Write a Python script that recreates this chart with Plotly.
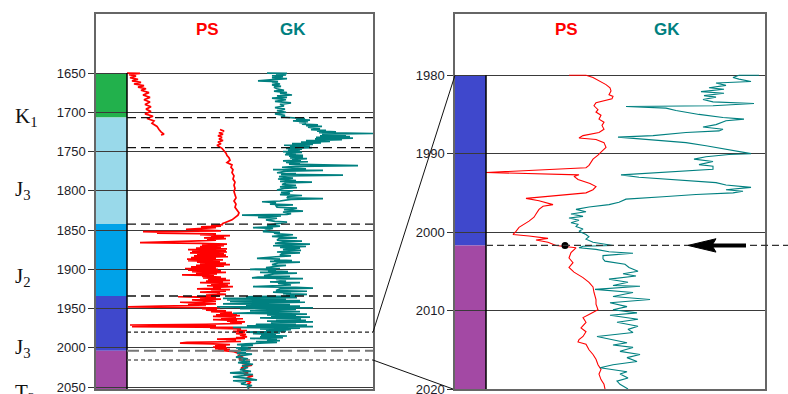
import plotly.graph_objects as go

W, H = 788, 394

# ---------------- data ----------------
LEFT_TICKS = [1650, 1700, 1750, 1800, 1850, 1900, 1950, 2000, 2050]
RIGHT_TICKS = [1980, 1990, 2000, 2010, 2020]

# stratigraphic column (depth tops / bases, m)
LEFT_UNIT_TOPS = [1650.0, 1706.7, 1842.4, 1934.0, 2003.7]
LEFT_UNIT_BASES = [1706.7, 1842.4, 1934.0, 2003.7, 2052.5]
RIGHT_UNIT_TOPS = [1980.0, 2001.7]
RIGHT_UNIT_BASES = [2001.7, 2020.0]
LEFT_LONG_DASH = [1706.7, 1745.0, 1842.4, 1934.0]
LEFT_GREY_DASH = [2003.7]
LEFT_SHORT_DASH = [1980.0, 2015.6]
RIGHT_BOUNDARY = 2001.7
RIGHT_DOT = (110, 2001.7)

STRAT_LABELS = ["K<sub>1</sub>", "J<sub>3</sub>", "J<sub>2</sub>", "J<sub>3</sub>", "T<sub>2</sub>"]
STRAT_DEPTHS = [1706, 1799, 1910, 2000, 2058]

# PS (red) log, left panel: (depth m, relative value)
PS_LEFT_UPPER = [(1650, 31), (1650.5, 44), (1652, 33), (1654, 40), (1656, 34), (1658, 42), (1660, 36),
                 (1662, 45), (1664, 38), (1666, 48), (1668, 42), (1670, 50), (1672, 45), (1675, 53),
                 (1678, 47), (1681, 54), (1684, 48), (1687, 54), (1690, 49), (1693, 55), (1696, 50),
                 (1699, 55), (1702, 49), (1705, 57), (1708, 51), (1711, 58), (1714, 56), (1718, 61),
                 (1722, 63), (1725, 65), (1728, 68), (1729, 65)]
PS_LEFT_LOWER = [(1722, 124), (1724, 128), (1726, 123), (1728, 127), (1730, 122), (1732, 126), (1734, 123),
                 (1736, 127), (1738, 122), (1740, 125), (1742, 121), (1744, 124), (1746, 126), (1749, 128),
                 (1752, 130), (1755, 131), (1758, 133), (1761, 134), (1764, 131), (1767, 136), (1770, 135),
                 (1773, 137), (1777, 136), (1781, 138), (1785, 137), (1789, 139), (1793, 138), (1797, 139),
                 (1801, 138), (1805, 139), (1809, 140), (1813, 138), (1817, 140), (1821, 139), (1825, 141),
                 (1828, 143), (1831, 142), (1834, 139), (1837, 136), (1840, 130), (1842, 126),
                 (1843, 127), (1844, 115), (1845, 125), (1846, 105), (1847, 120), (1848, 100), (1849, 90),
                 (1850, 110), (1851, 125), (1852, 47), (1853, 70), (1854, 61), (1855, 120), (1856, 104),
                 (1857, 134), (1858, 115), (1859, 128), (1860, 108), (1861, 130), (1862, 111), (1863, 120),
                 (1864, 95), (1865, 49), (1866, 44), (1867, 104), (1868, 131), (1869, 106), (1870, 128),
                 (1871, 104), (1872, 125), (1873, 100), (1874, 131), (1875, 92), (1876, 130), (1877, 96),
                 (1878, 131), (1879, 94), (1880, 128), (1881, 101), (1882, 130), (1883, 98), (1884, 132),
                 (1885, 95), (1886, 120), (1887, 91), (1888, 127), (1889, 92), (1890, 124), (1891, 101),
                 (1892, 130), (1893, 104), (1894, 134), (1895, 100), (1896, 128), (1897, 95), (1898, 120),
                 (1899, 89), (1900, 122), (1901, 92), (1902, 125), (1903, 96), (1904, 130), (1905, 100),
                 (1906, 121), (1907, 86), (1908, 118), (1909, 106), (1910, 125), (1911, 107), (1912, 130),
                 (1913, 112), (1914, 134), (1915, 110), (1916, 127), (1917, 104), (1918, 134), (1919, 115),
                 (1920, 132), (1921, 111), (1922, 137), (1923, 117), (1924, 125), (1925, 101), (1926, 134),
                 (1927, 115), (1928, 130), (1929, 104), (1930, 124), (1931, 121), (1932, 130), (1933, 110),
                 (1934, 124), (1935, 82), (1936, 120), (1937, 104), (1938, 125), (1939, 96), (1940, 110),
                 (1941, 120), (1942, 84), (1943, 100), (1944, 120), (1945, 92), (1946, 110), (1947, 64),
                 (1948, 32), (1949, 124), (1950, 106), (1951, 121), (1952, 110), (1953, 130), (1954, 115),
                 (1955, 136), (1956, 124), (1957, 141), (1958, 120), (1959, 144), (1960, 117), (1961, 140),
                 (1962, 125), (1963, 147), (1964, 117), (1965, 141), (1966, 131), (1967, 149), (1968, 134),
                 (1969, 146), (1970, 110), (1971, 34), (1972, 120), (1973, 36), (1974, 137), (1975, 114),
                 (1976, 145), (1977, 141), (1978, 151), (1979, 137), (1980, 149), (1982, 140), (1983, 150),
                 (1984, 144), (1986, 151), (1987, 140), (1988, 149), (1989, 121), (1990, 140), (1991, 130),
                 (1992, 145), (1993, 91), (1994, 84), (1995, 117), (1996, 134), (1997, 119), (1998, 130),
                 (1999, 117), (2000, 131), (2001, 119), (2002, 134), (2003, 122), (2004, 136), (2005, 138),
                 (2006, 140), (2008, 144), (2010, 142), (2012, 147), (2014, 143), (2016, 145), (2018, 150),
                 (2020, 146), (2022, 156), (2024, 148), (2026, 145), (2028, 149), (2030, 147), (2032, 152),
                 (2034, 148), (2036, 157), (2038, 151), (2040, 153), (2042, 149), (2044, 155), (2046, 152),
                 (2048, 154), (2050, 152), (2052, 153)]

# GK (teal) log, left panel
GK_LEFT = [(1650, 171), (1650.5, 191), (1651.5, 180), (1652.5, 190), (1653.5, 176), (1654.5, 187), (1656, 176),
           (1657, 191), (1658, 180), (1660, 162), (1661, 182), (1662, 176), (1664, 184), (1665, 176),
           (1667, 185), (1668, 178), (1670, 181), (1672, 188), (1673, 178), (1675, 191), (1676, 184),
           (1678, 196), (1679, 181), (1681, 191), (1682, 176), (1684, 190), (1686, 179), (1688, 195),
           (1690, 184), (1692, 188), (1694, 179), (1696, 189), (1698, 181), (1700, 190), (1702, 179),
           (1704, 189), (1706, 185),
           (1707, 197), (1708, 209), (1709, 200), (1710, 214), (1711, 197), (1712, 212), (1713, 203),
           (1714, 210), (1715, 206), (1716, 222), (1717, 210), (1718, 226), (1719, 212), (1720, 218),
           (1721, 224), (1722, 215), (1723, 230), (1724, 221), (1725, 240), (1726, 223), (1727, 277),
           (1728, 226), (1729, 250), (1730, 224), (1731, 254), (1732, 220), (1733, 257), (1734, 219),
           (1735, 246), (1736, 210), (1737, 234), (1738, 205), (1739, 225), (1740, 196), (1741, 217),
           (1742, 188), (1743, 214), (1744, 194), (1745, 216), (1746, 190),
           (1747, 206), (1748, 192), (1749, 204), (1750, 187), (1751, 206), (1752, 190), (1753, 200),
           (1754, 189), (1755, 207), (1756, 193), (1757, 207), (1758, 194), (1759, 211), (1760, 196),
           (1761, 205), (1762, 187), (1763, 212), (1764, 190), (1765, 204), (1766, 193), (1768, 262),
           (1769, 200), (1770, 186), (1772, 210), (1773, 177), (1774, 227), (1775, 190), (1777, 181),
           (1778, 200), (1779, 185), (1780, 247), (1781, 192), (1782, 183), (1784, 197), (1785, 182),
           (1787, 200), (1788, 184), (1789, 216), (1790, 190), (1792, 186), (1793, 200), (1795, 184),
           (1796, 201), (1797, 188), (1799, 181), (1800, 197), (1802, 185), (1803, 194), (1805, 184),
           (1806, 206), (1807, 192), (1809, 191), (1810, 227), (1811, 195), (1813, 184), (1814, 166),
           (1815, 180), (1817, 174), (1818, 197), (1819, 180), (1821, 181), (1822, 201), (1824, 188),
           (1826, 207), (1827, 187), (1829, 195), (1830, 191), (1831, 146), (1832, 185), (1834, 162),
           (1835, 181), (1837, 170), (1839, 179), (1840, 191), (1842, 180), (1844, 171), (1845, 184),
           (1846, 175), (1847, 157), (1848, 177), (1850, 170), (1852, 167), (1853, 184), (1854, 178),
           (1855, 182), (1856, 197), (1857, 186), (1858, 176), (1860, 201), (1861, 183), (1863, 181),
           (1864, 206), (1865, 188), (1867, 179), (1868, 214), (1869, 185), (1870, 177), (1871, 210),
           (1872, 184), (1873, 204),
           (1875, 187), (1876, 205), (1877, 185), (1878, 181), (1879, 204), (1880, 186), (1882, 184),
           (1883, 195), (1884, 180), (1886, 161), (1887, 184), (1888, 178), (1889, 196), (1890, 174),
           (1891, 204), (1892, 182), (1894, 176), (1895, 190), (1896, 181), (1898, 170), (1899, 184),
           (1900, 154), (1901, 180), (1902, 172), (1903, 192), (1904, 164), (1905, 201), (1906, 178),
           (1908, 168), (1909, 194), (1910, 162), (1911, 156), (1912, 207), (1913, 180), (1915, 190),
           (1916, 174), (1917, 204), (1918, 182), (1920, 195), (1921, 176), (1922, 157), (1923, 200),
           (1924, 217), (1925, 184), (1927, 180), (1928, 211), (1929, 177), (1930, 195), (1931, 187),
           (1932, 211), (1933, 190), (1934, 200), (1935, 150), (1936, 201), (1937, 127), (1938, 190),
           (1939, 131), (1940, 204), (1941, 134), (1942, 209), (1943, 160), (1944, 127), (1945, 194),
           (1946, 150), (1947, 204), (1948, 121), (1949, 217), (1950, 144), (1951, 200), (1952, 165),
           (1953, 154), (1954, 204), (1955, 170), (1956, 137), (1957, 211), (1958, 171), (1959, 200),
           (1960, 175), (1961, 214), (1962, 164), (1963, 205), (1964, 180), (1965, 210), (1966, 171),
           (1967, 217), (1968, 175), (1969, 200), (1970, 160), (1971, 211), (1972, 151), (1973, 217),
           (1974, 137), (1975, 204), (1976, 164), (1977, 195), (1978, 170), (1979, 190), (1980, 151),
           (1981, 184), (1982, 157), (1983, 180), (1984, 165), (1985, 191), (1986, 164), (1987, 187),
           (1988, 154), (1989, 181), (1990, 171), (1991, 184), (1992, 160), (1993, 181), (1994, 157),
           (1995, 150), (1996, 141), (1997, 157), (1998, 145), (1999, 152), (2000, 140), (2001, 155),
           (2002, 142), (2003, 154), (2004, 137), (2006, 150), (2007, 141), (2008, 156), (2010, 145),
           (2012, 140), (2014, 152), (2016, 143), (2018, 154), (2019, 142), (2021, 157), (2023, 146),
           (2025, 152), (2028, 144), (2030, 155), (2032, 134), (2034, 157), (2036, 140), (2037, 137),
           (2039, 152), (2041, 161), (2042, 137), (2044, 150), (2046, 145), (2048, 156), (2050, 151),
           (2052, 153)]

# right panel (detail 1980-2020 m)
PS_RIGHT = [(1980.0, 114), (1980.0, 131), (1980.3, 138), (1980.7, 144), (1981.2, 151), (1981.6, 155),
            (1982.0, 156), (1982.5, 154), (1982.7, 158), (1983.0, 157), (1983.3, 148), (1983.5, 141),
            (1983.9, 139), (1984.4, 143), (1984.7, 141), (1985.1, 146), (1985.6, 144), (1986.0, 149),
            (1986.4, 147), (1986.9, 149), (1987.3, 144), (1987.7, 128), (1988.0, 124), (1988.2, 141),
            (1988.6, 149), (1989.2, 151), (1989.8, 146), (1990.2, 143), (1990.7, 138), (1991.1, 136),
            (1991.5, 134), (1991.8, 131), (1992.4, 31), (1992.7, 124), (1992.9, 119), (1993.3, 123),
            (1993.8, 135), (1994.2, 141), (1994.6, 138), (1995.0, 131), (1995.5, 91), (1995.7, 71),
            (1996.0, 84), (1996.5, 98), (1996.7, 88), (1997.1, 84), (1997.7, 81), (1998.1, 79),
            (1998.6, 74), (1999.0, 69), (1999.4, 64), (1999.9, 61), (2000.3, 58), (2000.5, 74),
            (2000.8, 93), (2001.0, 81), (2001.3, 93), (2001.7, 101), (2002.0, 121), (2002.6, 116),
            (2003.3, 114), (2003.9, 118), (2004.5, 114), (2005.1, 119), (2005.8, 128), (2006.4, 134),
            (2007.0, 138), (2007.7, 139), (2008.6, 141), (2009.2, 141), (2009.9, 143), (2010.5, 134),
            (2010.9, 128), (2011.5, 131), (2012.2, 126), (2012.7, 131), (2013.3, 128), (2013.7, 124),
            (2014.0, 123), (2014.3, 131), (2015.0, 134), (2015.6, 138), (2016.2, 141), (2016.9, 143),
            (2017.5, 146), (2018.1, 144), (2018.8, 146), (2019.4, 149), (2020.0, 150)]
GK_RIGHT = [(1980.0, 304), (1980.0, 284), (1980.3, 278), (1980.5, 284), (1980.8, 296), (1981.0, 261),
            (1981.3, 271), (1981.6, 254), (1981.8, 269), (1982.1, 246), (1982.3, 269), (1982.6, 249),
            (1982.8, 261), (1983.1, 248), (1983.4, 258), (1983.6, 299), (1983.9, 258), (1984.0, 171),
            (1984.2, 211), (1984.5, 221), (1985.0, 244), (1985.4, 268), (1985.6, 289), (1985.8, 271),
            (1986.3, 261), (1986.6, 248), (1986.9, 268), (1987.1, 264), (1987.3, 231), (1987.7, 198),
            (1987.9, 163), (1988.3, 198), (1988.6, 231), (1989.0, 251), (1989.3, 264), (1989.6, 278),
            (1990.0, 296), (1990.1, 274), (1990.4, 251), (1990.7, 239), (1991.0, 258), (1991.4, 244),
            (1991.6, 258), (1992.0, 258), (1992.7, 166), (1993.0, 184), (1993.3, 218), (1993.7, 261),
            (1994.0, 271), (1994.3, 296), (1994.6, 271), (1994.8, 288), (1995.0, 278), (1995.2, 241),
            (1995.5, 208), (1995.8, 171), (1996.2, 164), (1996.5, 154), (1996.8, 134), (1997.1, 121),
            (1997.4, 131), (1997.7, 116), (1998.0, 128), (1998.2, 114), (1998.5, 124), (1998.8, 116),
            (1999.0, 123), (1999.3, 121), (1999.6, 128), (1999.9, 124), (2000.3, 131), (2000.6, 134),
            (2000.9, 131), (2001.3, 138), (2001.7, 158), (2001.8, 128), (2002.0, 124), (2002.2, 141),
            (2002.5, 154), (2002.7, 178), (2003.0, 148), (2003.4, 148), (2003.7, 150), (2004.1, 170),
            (2004.5, 174), (2005.0, 183), (2005.3, 168), (2005.6, 181), (2006.0, 154), (2006.4, 173),
            (2006.8, 158), (2006.9, 185), (2007.3, 140), (2007.7, 178), (2008.2, 158), (2008.6, 195),
            (2009.0, 155), (2009.5, 172), (2009.9, 158), (2010.3, 182), (2010.6, 155), (2011.1, 183),
            (2011.5, 162), (2012.0, 183), (2012.4, 173), (2012.8, 178), (2013.3, 142), (2013.7, 158),
            (2014.1, 172), (2014.4, 158), (2014.7, 178), (2015.2, 165), (2015.6, 185), (2016.0, 172),
            (2016.5, 182), (2016.9, 158), (2017.3, 145), (2017.8, 172), (2018.1, 165), (2018.6, 173),
            (2019.0, 162), (2019.4, 165), (2020.0, 173)]

# ---------------- styles / layout geometry ----------------
UNIT_COLORS = ["#22B14C", "#99D9EA", "#00A2E8", "#3F48CC", "#A349A4"]
RIGHT_UNIT_COLORS = ["#3F48CC", "#A349A4"]
PS_COLOR = "#FF0000"
GK_COLOR = "#008080"
TICK_FONT = dict(family="Liberation Sans, Arial, sans-serif", size=13, color="#1c1c28")
SERIF = "Liberation Serif, Times New Roman, serif"

L_DOM_X = [96 / W, 373 / W]
R_DOM_X = [455 / W, 765 / W]
DOM_Y = [1 - 389 / H, 1 - 14 / H]
L_XR = [0, 277]
R_XR = [0, 310]
L_YR = [2052.5, 1574.8]
R_YR = [2020.0, 1972.2]
COL_W = 31


def paper_y(depth, rng):
    return DOM_Y[0] + (rng[0] - depth) / (rng[0] - rng[1]) * (DOM_Y[1] - DOM_Y[0])


def unzip(pairs):
    return [p[0] for p in pairs], [p[1] for p in pairs]


fig = go.Figure()

ps_u_d, ps_u_v = unzip(PS_LEFT_UPPER)
ps_l_d, ps_l_v = unzip(PS_LEFT_LOWER)
gk_d, gk_v = unzip(GK_LEFT)
fig.add_trace(go.Scatter(x=ps_u_v + [None] + ps_l_v, y=ps_u_d + [None] + ps_l_d, mode="lines",
                         line=dict(color=PS_COLOR, width=1.7), xaxis="x", yaxis="y"))
fig.add_trace(go.Scatter(x=gk_v, y=gk_d, mode="lines", line=dict(color=GK_COLOR, width=1.7),
                         xaxis="x", yaxis="y"))

psr_d, psr_v = unzip(PS_RIGHT)
gkr_d, gkr_v = unzip(GK_RIGHT)
fig.add_trace(go.Scatter(x=psr_v, y=psr_d, mode="lines", line=dict(color=PS_COLOR, width=1.1),
                         xaxis="x2", yaxis="y2"))
fig.add_trace(go.Scatter(x=gkr_v, y=gkr_d, mode="lines", line=dict(color=GK_COLOR, width=1.1),
                         xaxis="x2", yaxis="y2"))
fig.add_trace(go.Scatter(x=[RIGHT_DOT[0]], y=[RIGHT_DOT[1]], mode="markers",
                         marker=dict(color="black", size=7), xaxis="x2", yaxis="y2"))

shapes = []
# stratigraphic columns
for t, b, c in zip(LEFT_UNIT_TOPS, LEFT_UNIT_BASES, UNIT_COLORS):
    shapes.append(dict(type="rect", xref="x", yref="y", x0=0, x1=COL_W, y0=t, y1=b,
                       fillcolor=c, line=dict(width=0), layer="below"))
for t, b, c in zip(RIGHT_UNIT_TOPS, RIGHT_UNIT_BASES, RIGHT_UNIT_COLORS):
    shapes.append(dict(type="rect", xref="x2", yref="y2", x0=0, x1=COL_W, y0=t, y1=b,
                       fillcolor=c, line=dict(width=0), layer="below"))
shapes.append(dict(type="line", xref="x", yref="y", x0=COL_W, x1=COL_W, y0=1650, y1=L_YR[0],
                   line=dict(color="black", width=1.5)))
shapes.append(dict(type="line", xref="x2", yref="y2", x0=COL_W, x1=COL_W, y0=1980, y1=R_YR[0],
                   line=dict(color="black", width=1.5)))
# boundaries
for d in LEFT_LONG_DASH:
    shapes.append(dict(type="line", xref="x", yref="y", x0=COL_W, x1=L_XR[1], y0=d, y1=d,
                       line=dict(color="#111", width=1.3, dash="9px,5px")))
for d in LEFT_GREY_DASH:
    shapes.append(dict(type="line", xref="x", yref="y", x0=COL_W, x1=L_XR[1], y0=d, y1=d,
                       line=dict(color="#777", width=2, dash="12px,5px")))
for d, c in zip(LEFT_SHORT_DASH, ["#222", "#666"]):
    shapes.append(dict(type="line", xref="x", yref="y", x0=COL_W, x1=L_XR[1], y0=d, y1=d,
                       line=dict(color=c, width=1.4, dash="4px,3px")))
shapes.append(dict(type="line", xref="paper", yref="y2", x0=R_DOM_X[0] + COL_W / W, x1=1.0,
                   y0=RIGHT_BOUNDARY, y1=RIGHT_BOUNDARY,
                   line=dict(color="#333", width=1.3, dash="7px,4px")))
# arrow
arrow_tip, arrow_back, arrow_tail, half_h = 233, 261, 291, 0.85
shapes.append(dict(type="path", xref="x2", yref="y2",
                   path=f"M {arrow_tip},{RIGHT_BOUNDARY} L {arrow_back},{RIGHT_BOUNDARY - half_h} "
                        f"L {arrow_back - 4},{RIGHT_BOUNDARY} L {arrow_back},{RIGHT_BOUNDARY + half_h} Z",
                   fillcolor="black", line=dict(color="black", width=1)))
shapes.append(dict(type="line", xref="x2", yref="y2", x0=arrow_back - 4, x1=arrow_tail,
                   y0=RIGHT_BOUNDARY, y1=RIGHT_BOUNDARY, line=dict(color="black", width=4)))
# zoom connector lines
shapes.append(dict(type="line", xref="paper", yref="paper", x0=L_DOM_X[1], y0=paper_y(1980.0, L_YR),
                   x1=R_DOM_X[0], y1=paper_y(1980.0, R_YR), line=dict(color="#111", width=1)))
shapes.append(dict(type="line", xref="paper", yref="paper", x0=L_DOM_X[1], y0=paper_y(2015.6, L_YR),
                   x1=R_DOM_X[0] - 2 / W, y1=paper_y(2020.0, R_YR), line=dict(color="#111", width=1)))

annotations = []
for xr, yr, d, xs in [("x", "y", 1594, (111, 197)), ("x2", "y2", 1974.2, (111, 212))]:
    annotations.append(dict(xref=xr, yref=yr, x=xs[0], y=d, text="PS", showarrow=False,
                            font=dict(family="Liberation Sans, Arial, sans-serif", size=17,
                                      color=PS_COLOR, weight="bold")))
    annotations.append(dict(xref=xr, yref=yr, x=xs[1], y=d, text="GK", showarrow=False,
                            font=dict(family="Liberation Sans, Arial, sans-serif", size=17,
                                      color=GK_COLOR, weight="bold")))
for lab, d in zip(STRAT_LABELS, STRAT_DEPTHS):
    annotations.append(dict(xref="paper", yref="paper", x=13 / W, y=paper_y(d, L_YR), text=lab,
                            xanchor="left", yanchor="middle", showarrow=False,
                            font=dict(family=SERIF, size=21, color="#111")))

axis_common = dict(showline=True, mirror=True, linecolor="#666", linewidth=1.5, zeroline=False,
                   fixedrange=True, automargin=False)
fig.update_layout(
    width=W, height=H, margin=dict(l=0, r=0, t=0, b=0, pad=0, autoexpand=False),
    paper_bgcolor="white", plot_bgcolor="white", showlegend=False,
    xaxis=dict(domain=L_DOM_X, range=L_XR, showticklabels=False, showgrid=False, ticks="",
               anchor="y", **axis_common),
    yaxis=dict(domain=DOM_Y, range=L_YR, tickvals=LEFT_TICKS, ticks="outside", ticklen=6,
               tickcolor="#333", showgrid=True, gridcolor="#3a3a3a", gridwidth=1.2,
               tickfont=TICK_FONT, ticklabeloverflow="allow", anchor="x", **axis_common),
    xaxis2=dict(domain=R_DOM_X, range=R_XR, showticklabels=False, showgrid=False, ticks="",
                anchor="y2", **axis_common),
    yaxis2=dict(domain=DOM_Y, range=R_YR, tickvals=RIGHT_TICKS, ticks="outside", ticklen=6,
                tickcolor="#333", showgrid=True, gridcolor="#3a3a3a", gridwidth=1.2,
                tickfont=TICK_FONT, ticklabeloverflow="allow", anchor="x2", **axis_common),
    shapes=shapes, annotations=annotations,
)

fig.write_html("out.html")
